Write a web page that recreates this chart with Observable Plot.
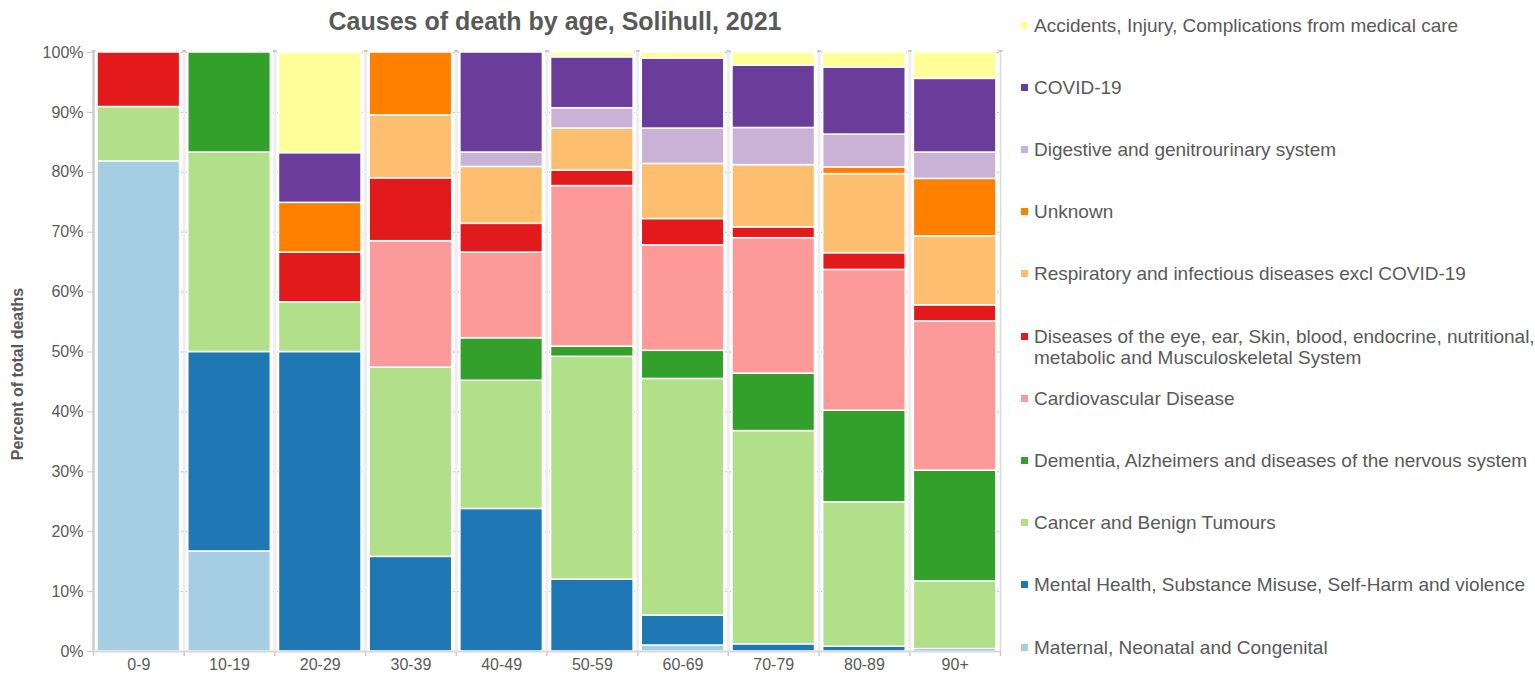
<!DOCTYPE html>
<html>
<head>
<meta charset="utf-8">
<script src="https://cdn.jsdelivr.net/npm/d3@7"></script>
<script src="https://cdn.jsdelivr.net/npm/@observablehq/plot@0.6"></script>
<style>
  html, body { margin: 0; padding: 0; background: #fff; overflow: hidden; }
  body { font-family: "Liberation Sans", Arial, sans-serif; }
  #wrap { position: relative; width: 1535px; height: 676px; overflow: hidden; }
  #title { position: absolute; left: 555px; top: 7px; transform: translateX(-50%); white-space: nowrap;
           font-size: 25px; font-weight: bold; color: #595959; }
  #ylabel { position: absolute; left: 18px; top: 374px; transform: translate(-50%, -50%) rotate(-90deg);
            white-space: nowrap; font-size: 16px; font-weight: bold; color: #595959; }
  .leg { position: absolute; left: 1021px; font-size: 19px; color: #595959; line-height: 21px; width: 514px; }
  .leg .sw { position: absolute; left: 0; top: 7px; width: 7px; height: 7px; }
  .leg .tx { margin-left: 13px; display: block; }
</style>
</head>
<body>
<div id="wrap">
  <div id="chart"></div>
  <div id="title">Causes of death by age, Solihull, 2021</div>
  <div id="ylabel">Percent of total deaths</div>
  <div id="legend"></div>
</div>
<script>
const ages = ["0-9","10-19","20-29","30-39","40-49","50-59","60-69","70-79","80-89","90+"];

const causes = [
  "Maternal, Neonatal and Congenital",
  "Mental Health, Substance Misuse, Self-Harm and violence",
  "Cancer and Benign Tumours",
  "Dementia, Alzheimers and diseases of the nervous system",
  "Cardiovascular Disease",
  "Diseases of the eye, ear, Skin, blood, endocrine, nutritional, metabolic and Musculoskeletal System",
  "Respiratory and infectious diseases excl COVID-19",
  "Unknown",
  "Digestive and genitrourinary system",
  "COVID-19",
  "Accidents, Injury, Complications from medical care"
];

const colors = ["#a6cee3","#1f78b4","#b2df8a","#33a02c","#fb9a99","#e31a1c","#fdbf6f","#ff7f00","#cab2d6","#6a3d9a","#ffff99"];

// percent of deaths per age band, one array per cause (order of ages)
const maternal    = [81.8, 16.7, 0,    0,    0,    0,    1.0,  0,    0,    0];
const mental      = [0,    33.3, 50.0, 15.8, 23.8, 12.0, 5.0,  1.2,  0.8,  0.4];
const cancer      = [9.1,  33.3, 8.3,  31.6, 21.4, 37.2, 39.5, 35.6, 24.1, 11.3];
const dementia    = [0,    16.7, 0,    0,    7.1,  1.7,  4.7,  9.6,  15.3, 18.5];
const cardio      = [0,    0,    0,    21.1, 14.3, 26.8, 17.6, 22.6, 23.5, 24.9];
const eyeEtc      = [9.1,  0,    8.3,  10.5, 4.8,  2.6,  4.4,  1.8,  2.8,  2.7];
const respiratory = [0,    0,    0,    10.5, 9.5,  7.0,  9.2,  10.4, 13.2, 11.5];
const unknown     = [0,    0,    8.3,  10.5, 0,    0,    0,    0,    1.1,  9.6];
const digestive   = [0,    0,    0,    0,    2.4,  3.4,  5.9,  6.2,  5.5,  4.4];
const covid       = [0,    0,    8.3,  0,    16.7, 8.5,  11.7, 10.4, 11.2, 12.3];
const accidents   = [0,    0,    16.7, 0,    0,    0.8,  1.0,  2.2,  2.5,  4.4];

const series = [maternal, mental, cancer, dementia, cardio, eyeEtc, respiratory, unknown, digestive, covid, accidents];

const yTicks = [0,10,20,30,40,50,60,70,80,90,100];

const data = [];
causes.forEach((c, ci) => ages.forEach((a, ai) => {
  if (series[ci][ai] > 0) data.push({age: a, cause: c, value: series[ci][ai]});
}));

const W = 1535, H = 676, ML = 93, MR = 535, MT = 52, MB = 25;
const step = (W - ML - MR) / ages.length;
const lastAge = [ages[ages.length - 1]];

const chart = Plot.plot({
  width: W, height: H,
  marginLeft: ML, marginRight: MR, marginTop: MT, marginBottom: MB,
  style: {fontFamily: "'Liberation Sans', Arial, sans-serif", background: "white"},
  x: {domain: ages, paddingInner: 0.09, paddingOuter: 0.045, round: false, axis: null},
  y: {domain: [0, 100], axis: null},
  color: {domain: causes, range: colors},
  marks: [
    Plot.gridY(yTicks, {stroke: "#bdbdbd", strokeOpacity: 1, strokeDasharray: "2,2"}),
    Plot.ruleX(ages, {x: d => d, dx: -step / 2, stroke: "#eeeeee", strokeWidth: 3}),
    Plot.ruleX(lastAge, {x: d => d, dx: step / 2, stroke: "#d9d9d9", strokeWidth: 1.5}),
    Plot.barY(data, {x: "age", y: "value", fill: "cause", order: causes, stroke: "white", strokeWidth: 1.5}),
    // top caps & bottom ticks at band boundaries
    Plot.ruleX(ages, {x: d => d, dx: -step / 2, y1: 100, y2: 100, insetTop: -2, stroke: "#c8c8c8", strokeWidth: 4}),
    Plot.ruleX(lastAge, {x: d => d, dx: step / 2, y1: 100, y2: 100, insetTop: -2, stroke: "#c8c8c8", strokeWidth: 4}),
    Plot.ruleX(ages, {x: d => d, dx: -step / 2, y1: 0, y2: 0, insetBottom: -5, stroke: "#c8c8c8", strokeWidth: 1.5}),
    Plot.ruleX(lastAge, {x: d => d, dx: step / 2, y1: 0, y2: 0, insetBottom: -5, stroke: "#c8c8c8", strokeWidth: 1.5}),
    // axes lines
    Plot.ruleX(ages.slice(0, 1), {x: d => d, dx: -step / 2, stroke: "#c8c8c8", strokeWidth: 2}),
    Plot.ruleY([0], {stroke: "#d9d9d9", strokeWidth: 2}),
    Plot.axisY(yTicks, {tickFormat: d => d + "%", tickSize: 6, tickPadding: 4, stroke: "#c8c8c8", fill: "#595959", fontSize: 16, label: null}),
    Plot.axisX({tickSize: 0, tickPadding: 7, fill: "#595959", fontSize: 16, label: null})
  ]
});
document.getElementById("chart").appendChild(chart);

// legend (top entry is last cause)
const legend = document.getElementById("legend");
const legOrder = causes.map((c, i) => i).reverse();
legOrder.forEach((ci, k) => {
  const el = document.createElement("div");
  el.className = "leg";
  el.style.top = (25 + k * 62.2 - 10.5) + "px";
  el.innerHTML = `<span class="sw" style="background:${colors[ci]}"></span><span class="tx"></span>`;
  el.querySelector(".tx").textContent = causes[ci];
  legend.appendChild(el);
});
</script>
</body>
</html>
